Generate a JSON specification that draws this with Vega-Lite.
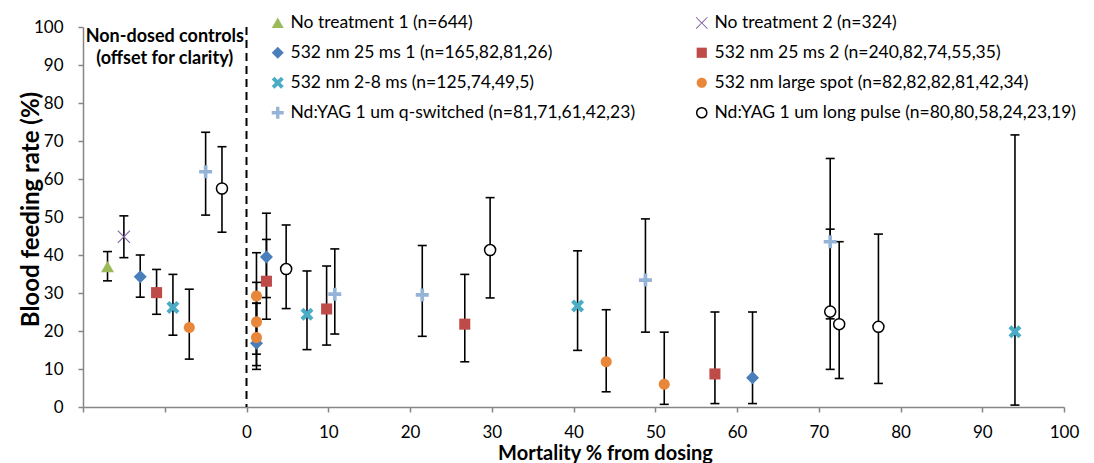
{
  "$schema": "https://vega.github.io/schema/vega-lite/v6.json",
  "width": 981,
  "height": 380,
  "autosize": {"type": "none"},
  "padding": {"left": 83, "top": 27, "right": 30, "bottom": 56},
  "config": {
    "view": {"stroke": null},
    "font": "Lato",
    "axis": {
      "grid": false,
      "domainColor": "#868686",
      "domainWidth": 1.5,
      "tickColor": "#868686",
      "tickWidth": 1.5,
      "tickSize": 5,
      "labelFont": "Lato",
      "labelFontSize": 17,
      "labelColor": "#000000",
      "labelOverlap": false,
      "titleFont": "Lato",
      "titleFontWeight": "bold",
      "titleColor": "#000000"
    },
    "axisY": {"labelOverlap": false, "tickCount": 11, "labelSeparation": 0},
    "axisLeft": {"labelOverlap": false, "tickCount": 11},
    "axisQuantitative": {"labelOverlap": false}
  },
  "data": {
    "values": [
      {"series": "No treatment 1 (n=644)", "x": -17, "y": 36.8, "lo": 33.2, "hi": 40.9},
      {"series": "No treatment 2 (n=324)", "x": -15, "y": 44.8, "lo": 39.3, "hi": 50.3},
      {"series": "532 nm 25 ms 1 (n=165,82,81,26)", "x": -13, "y": 34.3, "lo": 28.9, "hi": 40.0},
      {"series": "532 nm 25 ms 1 (n=165,82,81,26)", "x": 1.22, "y": 16.8, "lo": 9.9, "hi": 27.3},
      {"series": "532 nm 25 ms 1 (n=165,82,81,26)", "x": 2.44, "y": 39.5, "lo": 28.8, "hi": 51.0},
      {"series": "532 nm 25 ms 1 (n=165,82,81,26)", "x": 61.9, "y": 7.7, "lo": 0.9, "hi": 25.0},
      {"series": "532 nm 25 ms 2 (n=240,82,74,55,35)", "x": -11, "y": 30.1, "lo": 24.4, "hi": 36.2},
      {"series": "532 nm 25 ms 2 (n=240,82,74,55,35)", "x": 2.44, "y": 33.1, "lo": 23.1, "hi": 44.1},
      {"series": "532 nm 25 ms 2 (n=240,82,74,55,35)", "x": 9.8, "y": 25.8, "lo": 16.3, "hi": 37.1},
      {"series": "532 nm 25 ms 2 (n=240,82,74,55,35)", "x": 26.7, "y": 21.8, "lo": 11.9, "hi": 34.9},
      {"series": "532 nm 25 ms 2 (n=240,82,74,55,35)", "x": 57.3, "y": 8.7, "lo": 0.9, "hi": 25.0},
      {"series": "532 nm 2-8 ms (n=125,74,49,5)", "x": -9, "y": 26.2, "lo": 18.9, "hi": 34.9},
      {"series": "532 nm 2-8 ms (n=125,74,49,5)", "x": 7.4, "y": 24.4, "lo": 15.1, "hi": 35.8},
      {"series": "532 nm 2-8 ms (n=125,74,49,5)", "x": 40.5, "y": 26.6, "lo": 14.9, "hi": 41.1},
      {"series": "532 nm 2-8 ms (n=125,74,49,5)", "x": 94.0, "y": 19.8, "lo": 0.5, "hi": 71.6},
      {"series": "532 nm large spot (n=82,82,82,81,42,34)", "x": -7, "y": 20.9, "lo": 12.6, "hi": 31.0},
      {"series": "532 nm large spot (n=82,82,82,81,42,34)", "x": 1.22, "y": 29.2, "lo": 18.5, "hi": 40.6},
      {"series": "532 nm large spot (n=82,82,82,81,42,34)", "x": 1.22, "y": 22.4, "lo": 13.9, "hi": 32.8},
      {"series": "532 nm large spot (n=82,82,82,81,42,34)", "x": 1.22, "y": 18.3, "lo": 10.9, "hi": 27.3},
      {"series": "532 nm large spot (n=82,82,82,81,42,34)", "x": 44.0, "y": 11.9, "lo": 4.0, "hi": 25.6},
      {"series": "532 nm large spot (n=82,82,82,81,42,34)", "x": 51.1, "y": 6.0, "lo": 0.7, "hi": 19.7},
      {"series": "Nd:YAG 1 um q-switched (n=81,71,61,42,23)", "x": -5, "y": 61.9, "lo": 50.5, "hi": 72.3},
      {"series": "Nd:YAG 1 um q-switched (n=81,71,61,42,23)", "x": 10.8, "y": 29.7, "lo": 19.2, "hi": 41.6},
      {"series": "Nd:YAG 1 um q-switched (n=81,71,61,42,23)", "x": 21.5, "y": 29.5, "lo": 18.6, "hi": 42.5},
      {"series": "Nd:YAG 1 um q-switched (n=81,71,61,42,23)", "x": 48.8, "y": 33.4, "lo": 19.7, "hi": 49.5},
      {"series": "Nd:YAG 1 um q-switched (n=81,71,61,42,23)", "x": 71.4, "y": 43.5, "lo": 23.2, "hi": 65.4},
      {"series": "Nd:YAG 1 um long pulse (n=80,80,58,24,23,19)", "x": -3, "y": 57.5, "lo": 46.0, "hi": 68.5},
      {"series": "Nd:YAG 1 um long pulse (n=80,80,58,24,23,19)", "x": 4.85, "y": 36.3, "lo": 25.9, "hi": 47.9},
      {"series": "Nd:YAG 1 um long pulse (n=80,80,58,24,23,19)", "x": 29.8, "y": 41.3, "lo": 28.7, "hi": 55.1},
      {"series": "Nd:YAG 1 um long pulse (n=80,80,58,24,23,19)", "x": 71.4, "y": 25.1, "lo": 9.9, "hi": 46.8},
      {"series": "Nd:YAG 1 um long pulse (n=80,80,58,24,23,19)", "x": 72.5, "y": 21.8, "lo": 7.5, "hi": 43.5},
      {"series": "Nd:YAG 1 um long pulse (n=80,80,58,24,23,19)", "x": 77.3, "y": 21.1, "lo": 6.2, "hi": 45.5}
    ]
  },
  "layer": [
    {
      "mark": {"type": "point", "filled": true, "size": 169, "strokeWidth": 1.5, "opacity": 0},
      "encoding": {
        "x": {
          "field": "x", "type": "quantitative",
          "scale": {"domain": [-20, 100], "nice": false, "zero": false},
          "axis": {
            "title": "Mortality % from dosing",
            "values": [-20, -10, 0, 10, 20, 30, 40, 50, 60, 70, 80, 90, 100],
            "labelExpr": "datum.value < 0 ? '' : datum.label",
            "labelFlush": false,
            "labelOverlap": false,
            "labelPadding": 12,
            "titleFontSize": 20,
            "titlePadding": 3,
            "titleX": 522
          }
        },
        "y": {
          "field": "y", "type": "quantitative",
          "scale": {"domain": [0, 100], "nice": false, "zero": false},
          "axis": {
            "title": "Blood feeding rate (%)",
            "values": [0, 10, 20, 30, 40, 50, 60, 70, 80, 90, 100],
            "tickCount": 11,
            "labelOverlap": false,
            "labelFlush": false,
            "labelPadding": 15,
            "titleFontSize": 24,
            "titlePadding": -10,
            "titleY": 182
          }
        }
      }
    },
    {
      "mark": {"type": "rule", "stroke": "#000000", "strokeWidth": 1.6},
      "encoding": {
        "x": {"field": "x", "type": "quantitative"},
        "y": {"field": "lo", "type": "quantitative"},
        "y2": {"field": "hi"}
      }
    },
    {
      "mark": {"type": "point", "shape": "stroke", "size": 81, "stroke": "#000000", "strokeWidth": 1.6, "opacity": 1, "filled": false},
      "encoding": {
        "x": {"field": "x", "type": "quantitative"},
        "y": {"field": "lo", "type": "quantitative"}
      }
    },
    {
      "mark": {"type": "point", "shape": "stroke", "size": 81, "stroke": "#000000", "strokeWidth": 1.6, "opacity": 1, "filled": false},
      "encoding": {
        "x": {"field": "x", "type": "quantitative"},
        "y": {"field": "hi", "type": "quantitative"}
      }
    },
    {
      "data": {"values": [{"label": "divider"}]},
      "mark": {"type": "rule", "stroke": "#000000", "strokeWidth": 2, "strokeDash": [8, 5]},
      "encoding": {"x": {"datum": 0, "type": "quantitative"}}
    },
    {
      "data": {"values": [{"label": "annotation"}]},
      "mark": {"type": "text", "text": ["Non-dosed controls", "(offset for clarity)"], "font": "Lato", "fontSize": 18, "fontWeight": "bold", "align": "center", "baseline": "top", "lineHeight": 22, "color": "#000000", "dy": 1},
      "encoding": {
        "x": {"datum": -10, "type": "quantitative"},
        "y": {"datum": 100, "type": "quantitative"}
      }
    },
    {
      "mark": {"type": "point", "filled": true, "size": 169, "strokeWidth": 1.5, "opacity": 1},
      "encoding": {
        "x": {"field": "x", "type": "quantitative"},
        "y": {"field": "y", "type": "quantitative"},
        "shape": {
          "field": "series", "type": "nominal",
          "scale": {
            "domain": ["No treatment 1 (n=644)", "532 nm 25 ms 1 (n=165,82,81,26)", "532 nm 2-8 ms (n=125,74,49,5)", "Nd:YAG 1 um q-switched (n=81,71,61,42,23)", "No treatment 2 (n=324)", "532 nm 25 ms 2 (n=240,82,74,55,35)", "532 nm large spot (n=82,82,82,81,42,34)", "Nd:YAG 1 um long pulse (n=80,80,58,24,23,19)"],
            "range": [
              "M0,-0.95L1,0.8L-1,0.8Z",
              "M0,-1L1,0L0,1L-1,0Z",
              "M-1,-0.55L-0.55,-1L0,-0.45L0.55,-1L1,-0.55L0.45,0L1,0.55L0.55,1L0,0.45L-0.55,1L-1,0.55L-0.45,0Z",
              "M-0.28,-1L0.28,-1L0.28,-0.28L1,-0.28L1,0.28L0.28,0.28L0.28,1L-0.28,1L-0.28,0.28L-1,0.28L-1,-0.28L-0.28,-0.28Z",
              "M-1,-0.88L-0.88,-1L0,-0.12L0.88,-1L1,-0.88L0.12,0L1,0.88L0.88,1L0,0.12L-0.88,1L-1,0.88L-0.12,0Z",
              "M-0.85,-0.85L0.85,-0.85L0.85,0.85L-0.85,0.85Z",
              "M-0.85,0A0.85,0.85 0 1,0 0.85,0A0.85,0.85 0 1,0 -0.85,0Z",
              "M-0.85,0A0.85,0.85 0 1,0 0.85,0A0.85,0.85 0 1,0 -0.85,0Z"
            ]
          },
          "legend": {"title": null, "orient": "none", "legendX": 186, "legendY": -13, "columns": 2, "columnPadding": 56, "rowPadding": 11, "labelFont": "Lato", "labelFontSize": 17.5, "labelColor": "#000000", "labelLimit": 600, "symbolSize": 144, "symbolStrokeWidth": 1.5, "labelOffset": 4}
        },
        "fill": {
          "field": "series", "type": "nominal",
          "scale": {
            "domain": ["No treatment 1 (n=644)", "532 nm 25 ms 1 (n=165,82,81,26)", "532 nm 2-8 ms (n=125,74,49,5)", "Nd:YAG 1 um q-switched (n=81,71,61,42,23)", "No treatment 2 (n=324)", "532 nm 25 ms 2 (n=240,82,74,55,35)", "532 nm large spot (n=82,82,82,81,42,34)", "Nd:YAG 1 um long pulse (n=80,80,58,24,23,19)"],
            "range": ["#9BBB59", "#4A7EBB", "#4BACC6", "#95B3D7", "#8064A2", "#BE4B48", "#E8873A", "#FFFFFF"]
          },
          "legend": {"title": null, "orient": "none", "legendX": 186, "legendY": -13, "columns": 2, "columnPadding": 56, "rowPadding": 11, "labelFont": "Lato", "labelFontSize": 17.5, "labelColor": "#000000", "labelLimit": 600, "symbolSize": 144, "symbolStrokeWidth": 1.5, "labelOffset": 4}
        },
        "stroke": {
          "field": "series", "type": "nominal",
          "scale": {
            "domain": ["No treatment 1 (n=644)", "532 nm 25 ms 1 (n=165,82,81,26)", "532 nm 2-8 ms (n=125,74,49,5)", "Nd:YAG 1 um q-switched (n=81,71,61,42,23)", "No treatment 2 (n=324)", "532 nm 25 ms 2 (n=240,82,74,55,35)", "532 nm large spot (n=82,82,82,81,42,34)", "Nd:YAG 1 um long pulse (n=80,80,58,24,23,19)"],
            "range": ["transparent", "transparent", "transparent", "transparent", "transparent", "transparent", "transparent", "#000000"]
          },
          "legend": {"title": null, "orient": "none", "legendX": 186, "legendY": -13, "columns": 2, "columnPadding": 56, "rowPadding": 11, "labelFont": "Lato", "labelFontSize": 17.5, "labelColor": "#000000", "labelLimit": 600, "symbolSize": 144, "symbolStrokeWidth": 1.5, "labelOffset": 4}
        }
      }
    }
  ]
}
